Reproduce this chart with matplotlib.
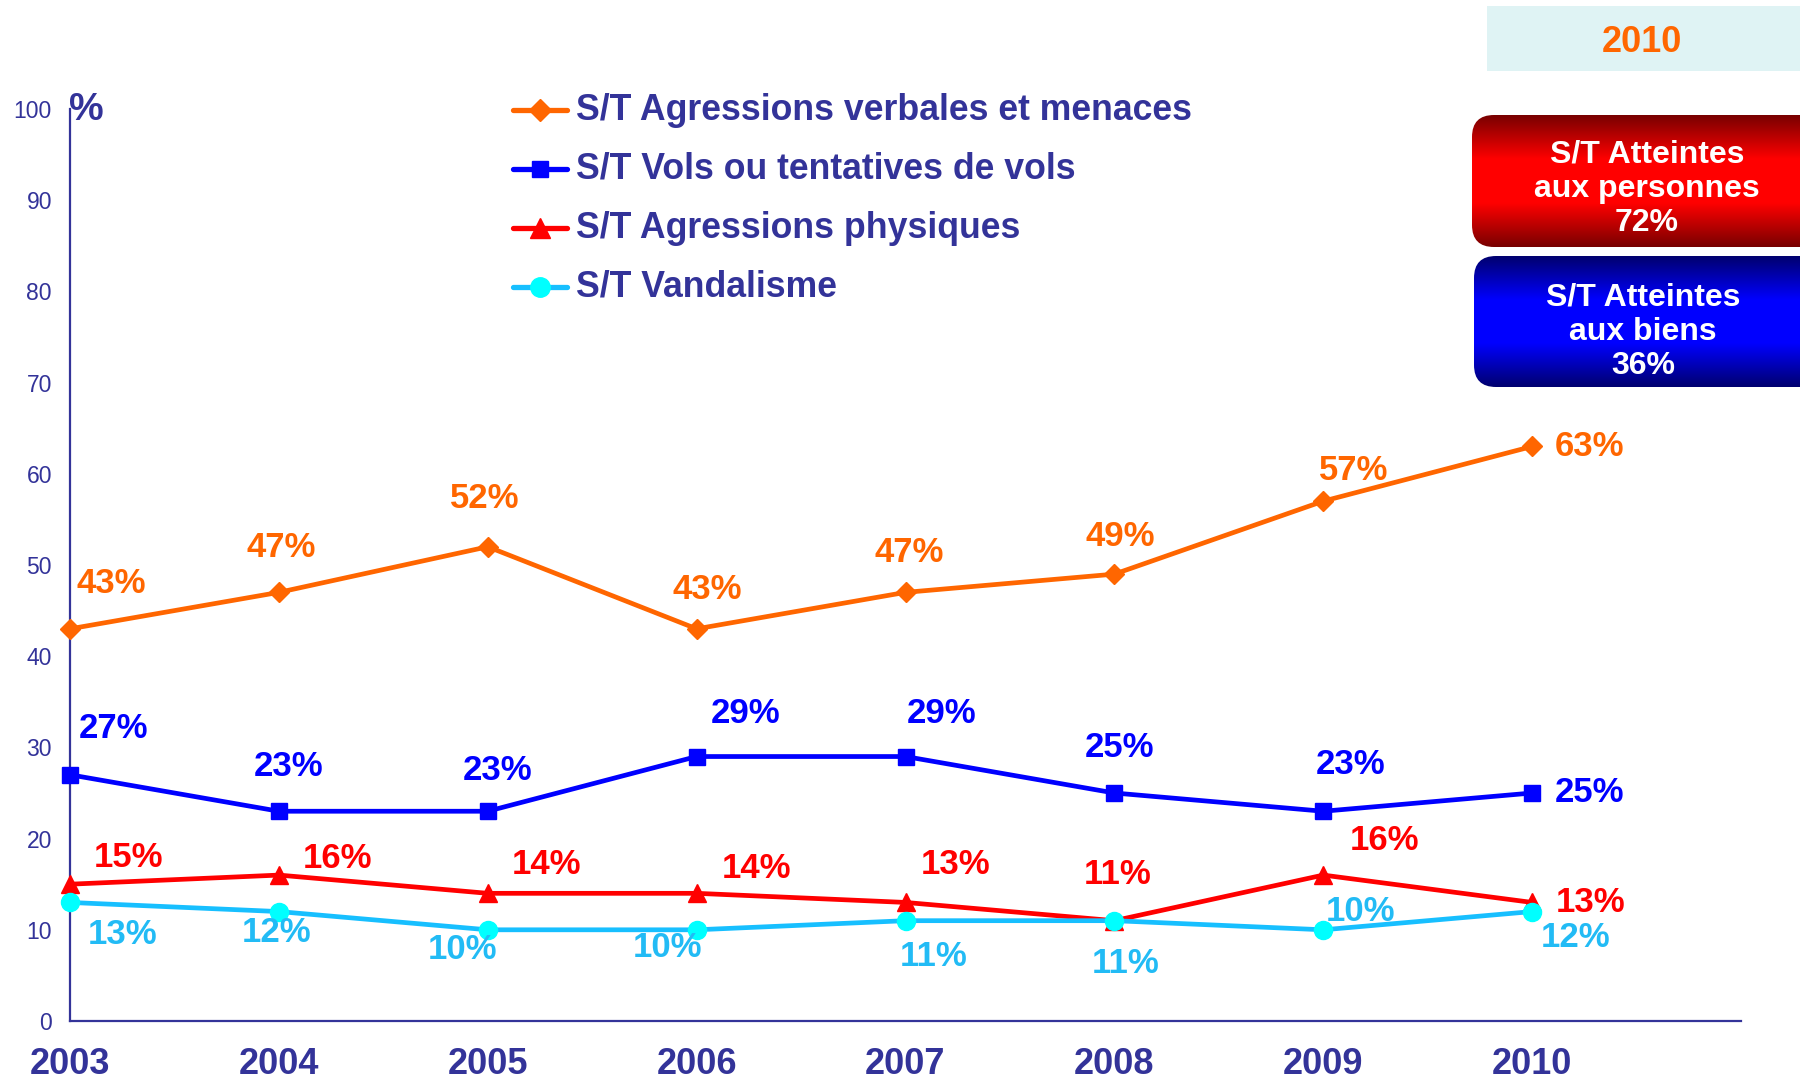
import matplotlib
matplotlib.use("Agg")
import matplotlib.pyplot as plt
import numpy as np
from matplotlib.patches import FancyBboxPatch, Rectangle
from matplotlib.colors import LinearSegmentedColormap

# ---------------- data ----------------
years = [2003, 2004, 2005, 2006, 2007, 2008, 2009, 2010]
verbales = [43, 47, 52, 43, 47, 49, 57, 63]
vols = [27, 23, 23, 29, 29, 25, 23, 25]
physiques = [15, 16, 14, 14, 13, 11, 16, 13]
vandalisme = [13, 12, 10, 10, 11, 11, 10, 12]
series_names = ["S/T Agressions verbales et menaces",
                "S/T Vols ou tentatives de vols",
                "S/T Agressions physiques",
                "S/T Vandalisme"]
yticks = [0, 10, 20, 30, 40, 50, 60, 70, 80, 90, 100]
year_box = "2010"
box_personnes = "S/T Atteintes\naux personnes\n72%"
box_biens = "S/T Atteintes\naux biens\n36%"

# ---------------- styles ----------------
NAVY = "#333399"
ORANGE = "#FF6600"
BLUE = "#0000FF"
RED = "#FF0000"
CYAN_LINE = "#17BFFF"
CYAN_MARK = "#00FFFF"
CYAN_TEXT = "#22BBF5"

plt.rcParams['font.family'] = ['Liberation Sans', 'DejaVu Sans']

# label offsets in points (dx, dy) for each series
off_verb = [(30, 33), (2, 32), (-2, 35), (8, 28), (3, 29), (4, 27), (22, 22), (41, 0)]
off_vols = [(31, 33), (7, 32), (7, 29), (35, 31), (26, 31), (4, 33), (20, 34), (41, 0)]
off_phys = [(42, 19), (42, 12), (42, 21), (43, 18), (36, 27), (2, 33), (44, 25), (42, 0)]
off_vand = [(38, -23), (-2, -15), (-18, -14), (-21, -13), (20, -26), (8, -31), (27, 13), (31, -19)]

W, H = 1800, 1079
fig = plt.figure(figsize=(W / 100, H / 100), dpi=100)
x0, x1, ytop, ybot = 70, 1741, 109, 1021
ax = fig.add_axes([x0 / W, 1 - ybot / H, (x1 - x0) / W, (ybot - ytop) / H])
ax.set_xlim(2003, 2011)
ax.set_ylim(0, 100)

series = [
    (verbales, ORANGE, ORANGE, "D", 10, ORANGE, off_verb),
    (vols, BLUE, BLUE, "s", 11, BLUE, off_vols),
    (physiques, RED, RED, "^", 13, RED, off_phys),
    (vandalisme, CYAN_LINE, CYAN_MARK, "o", 13, CYAN_TEXT, off_vand),
]
for i, (vals, lc, mc, mk, ms, tc, offs) in enumerate(series):
    ax.plot(years, vals, color=lc, lw=3.4, marker=mk, markersize=ms,
            markerfacecolor=mc, markeredgecolor=mc, clip_on=False, zorder=3 + i)
    for x, v, (dx, dy) in zip(years, vals, offs):
        ax.annotate(f"{v}%", (x, v), xytext=(dx, dy), textcoords="offset points",
                    ha="center", va="center", fontsize=25, fontweight="bold",
                    color=tc, zorder=10)

for s in ["top", "right"]:
    ax.spines[s].set_visible(False)
for s in ["left", "bottom"]:
    ax.spines[s].set_color(NAVY)
    ax.spines[s].set_linewidth(1.6)

ax.set_yticks(yticks)
ax.set_yticklabels([str(t) for t in yticks])
ax.set_xticks(years)
ax.set_xticklabels([str(y) for y in years])
ax.tick_params(axis="y", length=0, pad=13, labelsize=16.5, labelcolor=NAVY)
ax.tick_params(axis="x", length=0, pad=19, labelsize=26, labelcolor=NAVY)
for lab in ax.get_xticklabels():
    lab.set_fontweight("bold")

# ---------------- overlay in pixel coords ----------------
ov = fig.add_axes([0, 0, 1, 1], zorder=20)
ov.set_xlim(0, W)
ov.set_ylim(H, 0)
ov.axis("off")

ov.text(86, 110, "%", ha="center", va="center", fontsize=28, fontweight="bold", color=NAVY)

# legend (drawn manually in pixel space)
leg_rows = [110, 169, 228, 287]
for (vals, lc, mc, mk, ms, tc, offs), name, yy in zip(series, series_names, leg_rows):
    ov.plot([513, 567], [yy, yy], color=lc, lw=3.8, solid_capstyle="round")
    ov.plot([540], [yy], marker=mk, markersize=ms + 1, color=mc, markeredgecolor=mc)
    ov.text(576, yy, name, ha="left", va="center", fontsize=25.7,
            fontweight="bold", color=NAVY)

# 2010 box
ov.add_patch(Rectangle((1487, 6), 330, 65, facecolor="#DFF3F4", edgecolor="none"))
ov.text(1642, 42, year_box, ha="center", va="center", fontsize=26,
        fontweight="bold", color=ORANGE)


def grad_box(xa, ya, w, h, dark, bright, text, tcenter, dy):
    cmap = LinearSegmentedColormap.from_list("g", [dark, bright, bright, dark])
    grad = np.linspace(0, 1, 256).reshape(-1, 1)
    patch = FancyBboxPatch((xa, ya), w, h, boxstyle="round,pad=0,rounding_size=22",
                           facecolor="none", edgecolor="none")
    ov.add_patch(patch)
    im = ov.imshow(grad, extent=(xa, xa + w, ya + h, ya), cmap=cmap,
                   aspect="auto", interpolation="bilinear", zorder=1)
    im.set_clip_path(patch)
    ov.text(tcenter, ya + h / 2 + dy, text, ha="center", va="center", fontsize=23,
            fontweight="bold", color="white", linespacing=1.18, zorder=2)


grad_box(1472, 115, 360, 132, "#780000", "#FF0000", box_personnes, 1647, 8)
grad_box(1474, 256, 360, 131, "#00006E", "#0000FF", box_biens, 1643, 10)

ov.set_xlim(0, W)
ov.set_ylim(H, 0)

fig.savefig("out.png", dpi=100)
